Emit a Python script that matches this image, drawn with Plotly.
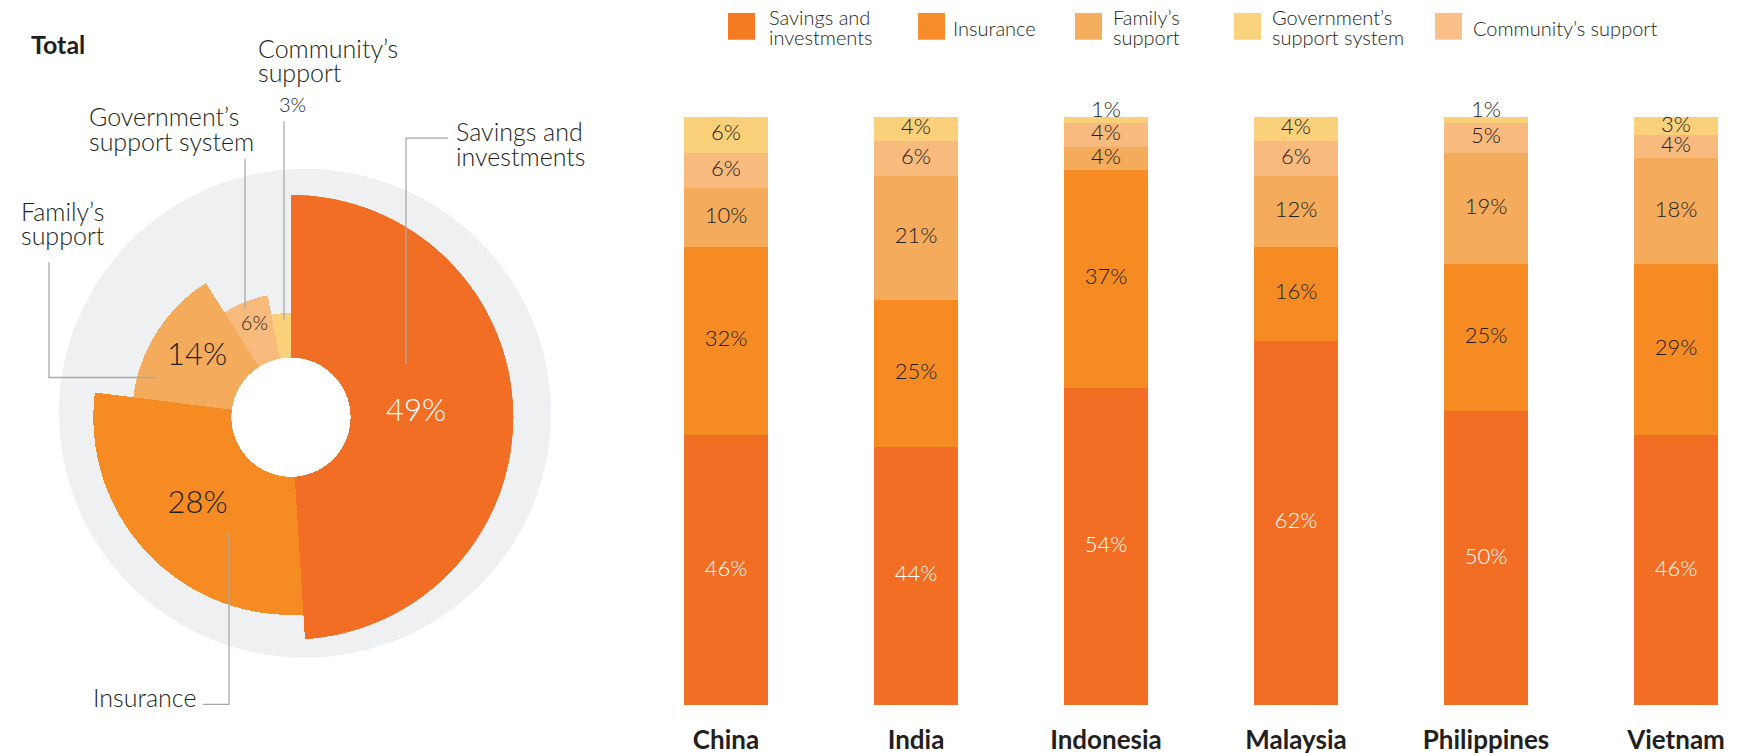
import numpy as np
import plotly.graph_objects as go

W, H = 1761, 755

# ---------------- data ----------------
countries = ["China", "India", "Indonesia", "Malaysia", "Philippines", "Vietnam"]
savings = [46, 44, 54, 62, 50, 46]
insurance = [32, 25, 37, 16, 25, 29]
family = [10, 21, 4, 12, 19, 18]
community = [6, 6, 4, 6, 5, 4]
government = [6, 4, 1, 4, 1, 3]

series_names = ["Savings and investments", "Insurance", "Family’s support",
                "Government’s support system", "Community’s support"]

total_labels = ["Savings and investments", "Insurance", "Family’s support",
                "Government’s support system", "Community’s support"]
total_values = [49, 28, 14, 6, 3]

# ---------------- style ----------------
DARK = "#231F20"
LEADER = "#A7A9AC"
FONT = "Lato"
C_SAV, C_INS, C_FAM, C_COM, C_GOV = "#F26E24", "#F58B22", "#F4AB5B", "#F9BA7E", "#FAD17A"
legend_colors = ["#F47B22", "#F68D2A", "#F5AD5E", "#FBD27E", "#FBC08A"]
pie_colors = [C_SAV, C_INS, C_FAM, C_COM, C_GOV]
pie_radius = [224, 199, 160, 125, 105]   # outer radius of each slice, px
pie_hole = 60
pie_label_r = [126, 129, 112, 100]
pie_label_size = [31, 31, 31, 20]
pie_label_color = ["white", DARK, DARK, DARK]
CALLOUT = 25
LEGEND = 20

# bar plot area: y=0 at 710 px, y=100 at 118 px
Y0_PX, Y100_PX, Y_MAX = 710, 118, 104
Y_TOP_PX = Y0_PX - Y_MAX * (Y0_PX - Y100_PX) / 100


def px(x):
    return x / W


def py(y):
    return 1 - y / H


fig = go.Figure()

# ---------------- stacked bars ----------------
stack = [(savings, C_SAV, "Savings and investments"),
         (insurance, C_INS, "Insurance"),
         (family, C_FAM, "Family’s support"),
         (community, C_COM, "Community’s support"),
         (government, C_GOV, "Government’s support system")]

lab_x, lab_y, lab_t, lab_c = [], [], [], []
base = np.zeros(len(countries))
for vals, col, name in stack:
    fig.add_trace(go.Bar(x=countries, y=vals, marker=dict(color=col, line=dict(width=0)),
                         width=0.437, name=name, showlegend=False, hoverinfo="skip"))
    for i, v in enumerate(vals):
        top = base[i] + v
        lab_x.append(countries[i])
        lab_y.append(base[i] + v / 2 if v >= 2 else top + 1.0)
        lab_t.append(f"{v}%")
        lab_c.append("white" if vals is savings else DARK)
    base = base + np.array(vals)

fig.add_trace(go.Scatter(x=lab_x, y=lab_y, text=lab_t, mode="text", cliponaxis=False,
                         textfont=dict(family=FONT, size=22, color=lab_c, weight=300),
                         showlegend=False, hoverinfo="skip"))

# ---------------- total: variable-radius donut ----------------
cum = np.concatenate([[0], np.cumsum(total_values)])
theta_mid = [(cum[i] + v / 2) * 3.6 for i, v in enumerate(total_values)]
widths = [v * 3.6 for v in total_values]

fig.add_trace(go.Barpolar(r=[r - pie_hole for r in pie_radius], base=pie_hole,
                          theta=theta_mid, width=widths,
                          marker=dict(color=pie_colors, line=dict(width=0)),
                          showlegend=False, hoverinfo="skip"))
fig.add_trace(go.Scatterpolar(r=pie_label_r, theta=theta_mid[:4], mode="text",
                              text=[f"{v}%" for v in total_values[:4]],
                              textfont=dict(family=FONT, size=pie_label_size,
                                            color=pie_label_color, weight=300),
                              showlegend=False, hoverinfo="skip"))

shapes = []
# grey backdrop disc and white centre
shapes.append(dict(type="circle", xref="paper", yref="paper", layer="below",
                   x0=px(59), x1=px(551), y0=py(662), y1=py(170),
                   fillcolor="#EFF0F1", line=dict(width=0)))
shapes.append(dict(type="circle", xref="paper", yref="paper", layer="below",
                   x0=px(291 - pie_hole), x1=px(291 + pie_hole),
                   y0=py(420 + pie_hole), y1=py(420 - pie_hole),
                   fillcolor="white", line=dict(width=0)))


def leader(points):
    path = "M " + " L ".join(f"{px(x)},{py(y)}" for x, y in points)
    shapes.append(dict(type="path", xref="paper", yref="paper", path=path,
                       line=dict(color=LEADER, width=1.3), layer="above"))


leader([(284, 122), (284, 322)])
leader([(245, 160), (245, 311)])
leader([(448, 139), (406, 139), (406, 367)])
leader([(49, 264), (49, 380), (158, 380)])
leader([(203, 709), (229, 709), (229, 537)])

annotations = []


def text_lines(lines, x, y0, step, size, anchor="left", color=DARK, weight=300):
    for k, line in enumerate(lines):
        annotations.append(dict(text=line, x=px(x), y=py(y0 + k * step), xref="paper", yref="paper",
                                xanchor=anchor, yanchor="middle", showarrow=False,
                                font=dict(family=FONT, size=size, color=color, weight=weight)))


text_lines(["Total"], 29, 44, 0, 25, weight="bold")
text_lines(["Community’s", "support"], 256, 48, 24, CALLOUT)
text_lines([f"{total_values[4]}%"], 292, 105, 0, 20, anchor="center")
text_lines(["Government’s", "support system"], 87, 117, 25, CALLOUT)
text_lines(["Savings and", "investments"], 454, 132, 25, CALLOUT)
text_lines(["Family’s", "support"], 19, 212, 25, CALLOUT)
text_lines(["Insurance"], 91, 702, 0, CALLOUT)

# ---------------- legend ----------------
legend_lines = [["Savings and", "investments"], ["Insurance"], ["Family’s", "support"],
                ["Government’s", "support system"], ["Community’s support"]]
sw_x = [728, 918, 1075, 1234, 1435]
tx_x = [767, 951, 1111, 1270, 1471]
for name, col, lines, sx, tx in zip(series_names, legend_colors, legend_lines, sw_x, tx_x):
    shapes.append(dict(type="rect", xref="paper", yref="paper", x0=px(sx), x1=px(sx + 27),
                       y0=py(40), y1=py(13), fillcolor=col, line=dict(width=0)))
    if len(lines) == 2:
        text_lines(lines, tx, 17, 20, LEGEND)
    else:
        text_lines(lines, tx, 28, 0, LEGEND)

fig.update_layout(
    width=W, height=H, margin=dict(l=0, r=0, t=0, b=0),
    paper_bgcolor="white", plot_bgcolor="rgba(0,0,0,0)",
    barmode="stack", showlegend=False,
    font=dict(family=FONT, color=DARK),
    xaxis=dict(domain=[px(631), px(1752)], type="category", range=[-0.5, 5.4],
               showgrid=False, zeroline=False, showline=False, ticks="",
               tickfont=dict(family=FONT, size=26, color=DARK, weight="bold"),
               ticklabelstandoff=17),
    yaxis=dict(domain=[py(Y0_PX), py(Y_TOP_PX)], range=[0, Y_MAX], visible=False),
    polar=dict(domain=dict(x=[px(291 - 224), px(291 + 224)], y=[py(420 + 224), py(420 - 224)]),
               bgcolor="rgba(0,0,0,0)",
               radialaxis=dict(visible=False, range=[0, 224]),
               angularaxis=dict(visible=False, rotation=90, direction="clockwise")),
    shapes=shapes, annotations=annotations,
)

fig.write_html("out.html")
